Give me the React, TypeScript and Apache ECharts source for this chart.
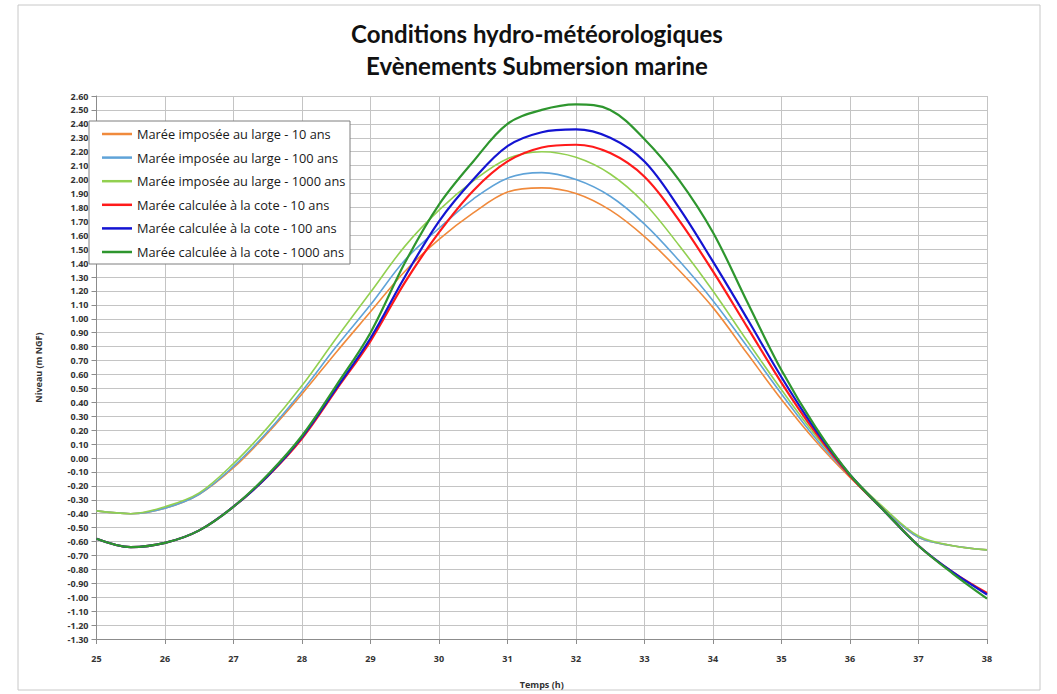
import React, { useEffect, useRef } from 'react';
import * as echarts from 'echarts';

const hours = [25, 25.5, 26, 26.5, 27, 27.5, 28, 28.5, 29, 29.5, 30, 30.5, 31, 31.5, 32, 32.5, 33, 33.5, 34, 34.5, 35, 35.5, 36, 36.5, 37, 37.5, 38];

const imposee10 = [-0.38, -0.40, -0.36, -0.26, -0.07, 0.18, 0.46, 0.76, 1.05, 1.34, 1.57, 1.76, 1.91, 1.94, 1.90, 1.78, 1.59, 1.35, 1.08, 0.75, 0.42, 0.12, -0.14, -0.37, -0.57, -0.63, -0.66];
const imposee100 = [-0.38, -0.40, -0.36, -0.26, -0.06, 0.19, 0.48, 0.80, 1.10, 1.42, 1.65, 1.86, 2.01, 2.05, 2.00, 1.88, 1.68, 1.42, 1.13, 0.80, 0.46, 0.14, -0.13, -0.37, -0.57, -0.63, -0.66];
const imposee1000 = [-0.38, -0.40, -0.35, -0.25, -0.04, 0.22, 0.52, 0.86, 1.19, 1.52, 1.78, 1.99, 2.15, 2.20, 2.16, 2.04, 1.83, 1.53, 1.20, 0.84, 0.49, 0.16, -0.12, -0.36, -0.56, -0.63, -0.66];
const calculee10 = [-0.58, -0.64, -0.61, -0.52, -0.35, -0.13, 0.14, 0.49, 0.84, 1.26, 1.62, 1.92, 2.13, 2.23, 2.25, 2.19, 2.02, 1.71, 1.34, 0.94, 0.54, 0.18, -0.13, -0.38, -0.63, -0.82, -0.97];
const calculee100 = [-0.58, -0.64, -0.61, -0.52, -0.35, -0.13, 0.15, 0.50, 0.86, 1.30, 1.70, 2.00, 2.24, 2.34, 2.36, 2.30, 2.13, 1.80, 1.41, 1.00, 0.58, 0.20, -0.12, -0.38, -0.63, -0.82, -0.98];
const calculee1000 = [-0.58, -0.64, -0.61, -0.52, -0.35, -0.12, 0.16, 0.52, 0.90, 1.40, 1.82, 2.13, 2.40, 2.50, 2.54, 2.50, 2.29, 2.00, 1.62, 1.12, 0.63, 0.22, -0.12, -0.38, -0.63, -0.83, -1.01];

const seriesNames = [
  'Marée imposée au large - 10 ans',
  'Marée imposée au large - 100 ans',
  'Marée imposée au large - 1000 ans',
  'Marée calculée à la cote - 10 ans',
  'Marée calculée à la cote - 100 ans',
  'Marée calculée à la cote - 1000 ans',
];
const seriesValues = [imposee10, imposee100, imposee1000, calculee10, calculee100, calculee1000];
const seriesColors = ['#F08A3C', '#5FA3D8', '#92D050', '#FF1A1A', '#1414D2', '#2E962E'];
const seriesWidths = [1.6, 1.6, 1.6, 2.2, 2.2, 2.2];

const titleLine1 = 'Conditions hydro-météorologiques';
const titleLine2 = 'Evènements Submersion marine';

export default function App() {
  const ref = useRef<HTMLDivElement>(null);
  useEffect(() => {
    const chart = echarts.init(ref.current!, null, { renderer: 'svg' });
    const font = 'Open Sans';
    const option: any = {
      animation: false,
      backgroundColor: '#ffffff',
      title: [
        {
          text: titleLine1, left: 537, top: 19, padding: 0, textAlign: 'center',
          textStyle: { fontFamily: 'Lato', fontWeight: 'bold', fontSize: 24, lineHeight: 28, color: '#111' },
        },
        {
          text: titleLine2, left: 537, top: 51, padding: 0, textAlign: 'center',
          textStyle: { fontFamily: 'Lato', fontWeight: 'bold', fontSize: 24, lineHeight: 28, color: '#111' },
        },
      ],
      graphic: [
        {
          type: 'rect', shape: { x: 18, y: 5, width: 1022, height: 685 },
          style: { fill: 'none', stroke: '#c8c8c8', lineWidth: 1 }, z: -10, silent: true,
        },
        {
          type: 'rect', shape: { x: 89, y: 121, width: 261, height: 143 },
          style: { fill: '#ffffff', stroke: '#7f7f7f', lineWidth: 1 }, z: 50, silent: true,
        },
      ],
      legend: {
        orient: 'vertical', left: 102, top: 127, padding: 0,
        icon: 'rect', itemWidth: 30, itemHeight: 2.5, itemGap: 9.6, z: 60,
        textStyle: { fontFamily: font, fontSize: 12.8, color: '#1a1a1a', lineHeight: 14 },
        data: seriesNames,
      },
      grid: { left: 96.5, right: 70, top: 96, bottom: 49, containLabel: false },
      xAxis: {
        type: 'value', min: 25, max: 38, interval: 1,
        name: 'Temps (h)', nameLocation: 'middle', nameGap: 41,
        nameTextStyle: { fontFamily: font, fontSize: 9, fontWeight: 'bold', color: '#333' },
        axisLine: { show: true, onZero: false, lineStyle: { color: '#8c8c8c' } },
        axisTick: { show: true, length: 5, lineStyle: { color: '#8c8c8c' } },
        axisLabel: { fontFamily: font, fontSize: 9, color: '#333', margin: 15, fontWeight: 'bold' },
        splitLine: { show: true, lineStyle: { color: '#c4c4c4', width: 1 } },
      },
      yAxis: {
        type: 'value', min: -1.3, max: 2.6, interval: 0.1,
        name: 'Niveau (m NGF)', nameLocation: 'middle', nameGap: 54, nameRotate: 90,
        nameTextStyle: { fontFamily: font, fontSize: 9, fontWeight: 'bold', color: '#333' },
        axisLine: { show: true, onZero: false, lineStyle: { color: '#8c8c8c' } },
        axisTick: { show: true, length: 5, lineStyle: { color: '#8c8c8c' } },
        axisLabel: {
          fontFamily: font, fontSize: 9, color: '#333', margin: 8, fontWeight: 'bold',
          formatter: (v: number) => (Math.abs(v) < 1e-9 ? '0.00' : v.toFixed(2)),
        },
        splitLine: { show: true, lineStyle: { color: '#c4c4c4', width: 1 } },
      },
      series: seriesNames.map((name, i) => ({
        name,
        type: 'line',
        smooth: 0.35,
        symbol: 'none',
        data: hours.map((h, j) => [h, seriesValues[i][j]]),
        lineStyle: { color: seriesColors[i], width: seriesWidths[i] },
        itemStyle: { color: seriesColors[i] },
        z: 2 + i,
      })),
    };
    chart.setOption(option);
    return () => chart.dispose();
  }, []);
  return (
    <div
      ref={ref}
      style={{ position: 'absolute', left: 0, top: 0, width: 1057, height: 694, background: '#fff' }}
    />
  );
}
